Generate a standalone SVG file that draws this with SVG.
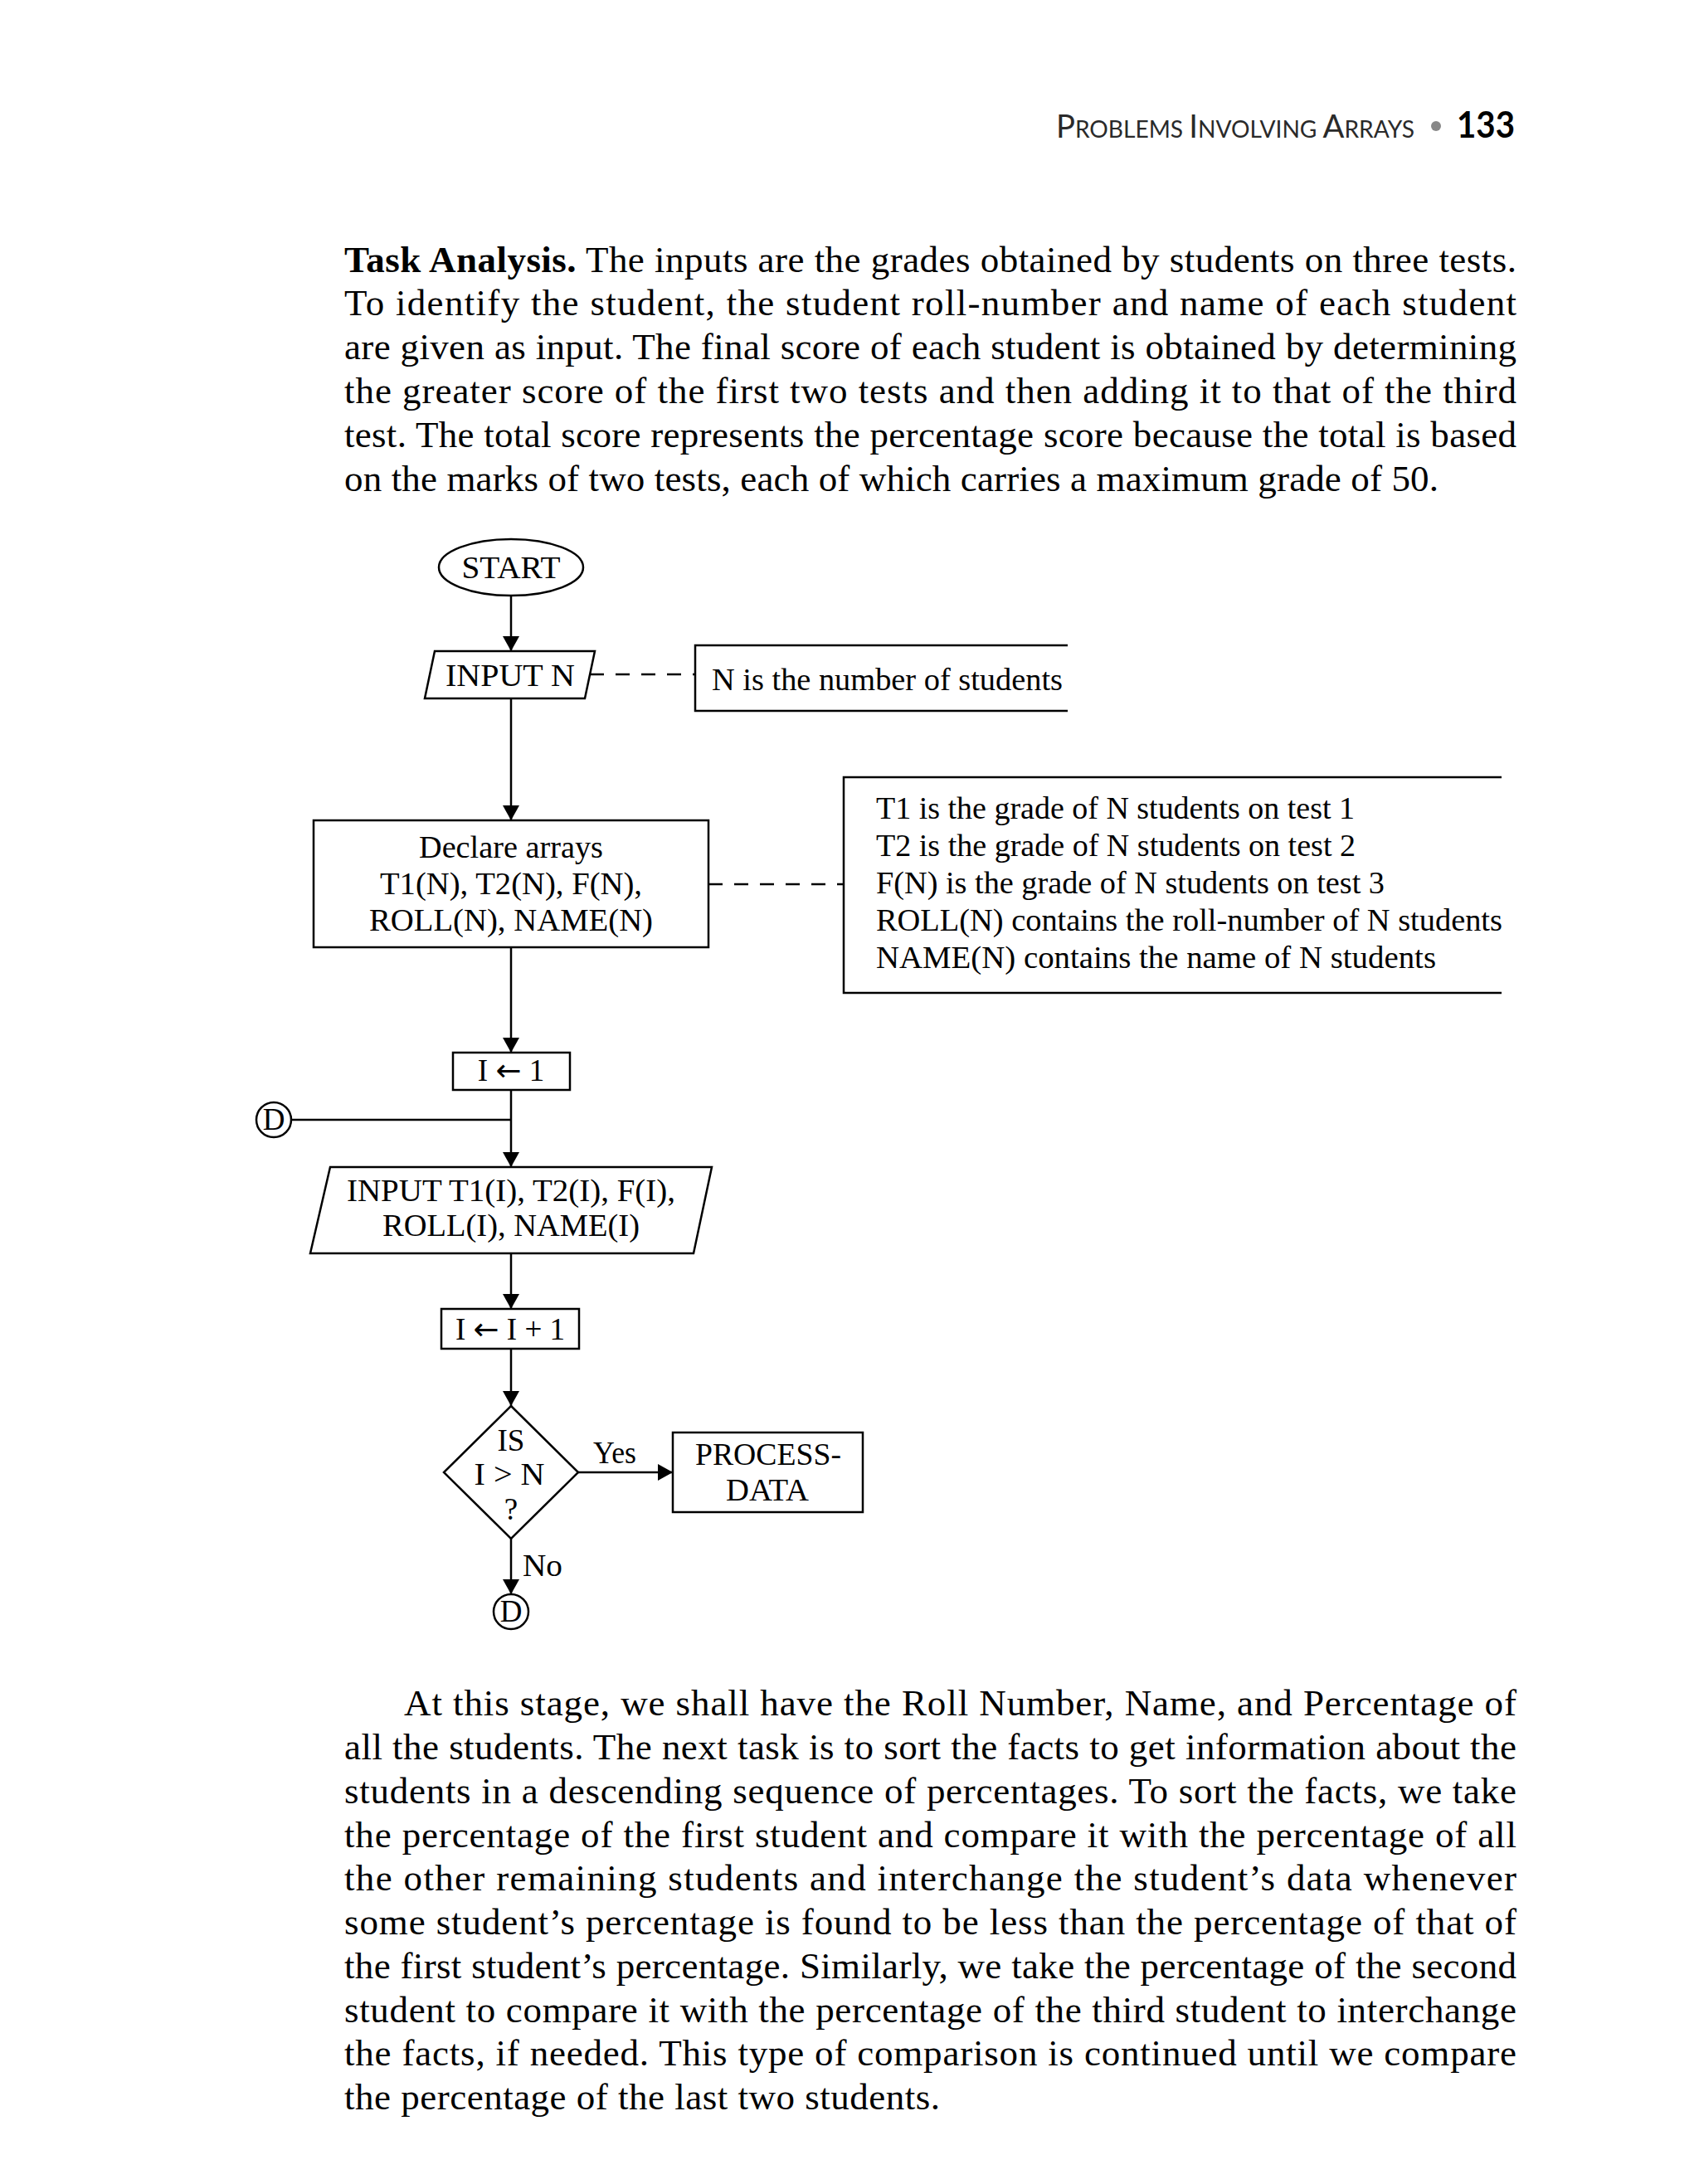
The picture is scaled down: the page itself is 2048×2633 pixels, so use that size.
<svg xmlns="http://www.w3.org/2000/svg" width="2048" height="2633" viewBox="0 0 2048 2633">
<defs>
<marker id="arr" markerWidth="20" markerHeight="20" refX="18" refY="10" orient="auto" markerUnits="userSpaceOnUse">
<path d="M0,0 L18,10 L0,20 Z" fill="#000"/>
</marker>
<style>
.body{font-family:"Liberation Serif","Times New Roman",serif;font-size:45px;fill:#000}
.fc{font-family:"Liberation Serif","Times New Roman",serif;font-size:37px;fill:#000}
.ar{font-family:"DejaVu Sans",sans-serif;font-size:37px}
.shape{fill:#fff;stroke:#000;stroke-width:2.5}
.line{fill:none;stroke:#000;stroke-width:2.5}
.arrow{fill:none;stroke:#000;stroke-width:2.5;marker-end:url(#arr)}
.dash{fill:none;stroke:#000;stroke-width:2.5;stroke-dasharray:17 14}
.hdr{font-family:Lato,"Open Sans",sans-serif;fill:#2a2a2a}
</style>
</defs>
<rect width="2048" height="2633" fill="#fff"/>

<g id="header">
<text class="hdr" x="1273" y="166" textLength="432" lengthAdjust="spacingAndGlyphs"><tspan font-size="38">P</tspan><tspan font-size="28">ROBLEMS </tspan><tspan font-size="38">I</tspan><tspan font-size="28">NVOLVING </tspan><tspan font-size="38">A</tspan><tspan font-size="28">RRAYS</tspan></text>
<circle cx="1731" cy="152" r="6" fill="#888"/>
<text x="1756" y="166" font-family="Lato,'Open Sans',sans-serif" font-weight="bold" font-size="44" fill="#000" textLength="70" lengthAdjust="spacingAndGlyphs">133</text>
</g>

<g id="intro-paragraph">
<text class="body" x="415" y="328" textLength="1413" lengthAdjust="spacing"><tspan font-weight="bold">Task Analysis.</tspan> The inputs are the grades obtained by students on three tests.</text>
<text class="body" x="415" y="380" textLength="1413" lengthAdjust="spacing">To identify the student, the student roll-number and name of each student</text>
<text class="body" x="415" y="433" textLength="1413" lengthAdjust="spacing">are given as input. The final score of each student is obtained by determining</text>
<text class="body" x="415" y="486" textLength="1413" lengthAdjust="spacing">the greater score of the first two tests and then adding it to that of the third</text>
<text class="body" x="415" y="539" textLength="1413" lengthAdjust="spacing">test. The total score represents the percentage score because the total is based</text>
<text class="body" x="415" y="592" textLength="1319" lengthAdjust="spacing">on the marks of two tests, each of which carries a maximum grade of 50.</text>
</g>

<g id="connectors">
<line class="arrow" x1="616" y1="718" x2="616" y2="785"/>
<line class="arrow" x1="616" y1="842" x2="616" y2="989"/>
<line class="arrow" x1="616" y1="1142" x2="616" y2="1269"/>
<line class="arrow" x1="616" y1="1314" x2="616" y2="1407"/>
<line class="line" x1="351" y1="1350" x2="616" y2="1350"/>
<line class="arrow" x1="616" y1="1511" x2="616" y2="1578"/>
<line class="arrow" x1="616" y1="1626" x2="616" y2="1695"/>
<line class="arrow" x1="697" y1="1775" x2="811" y2="1775"/>
<line class="arrow" x1="616" y1="1855" x2="616" y2="1922"/>
<line class="dash" x1="711" y1="813" x2="838" y2="813"/>
<line class="dash" x1="854" y1="1066" x2="1017" y2="1066"/>
<text class="fc" x="715" y="1764" textLength="52" lengthAdjust="spacingAndGlyphs">Yes</text>
<text class="fc" x="630" y="1900" textLength="48" lengthAdjust="spacingAndGlyphs">No</text>
</g>

<g id="start">
<ellipse class="shape" cx="616" cy="684" rx="87" ry="34"/>
<text class="fc" x="616" y="697" text-anchor="middle" textLength="119" lengthAdjust="spacingAndGlyphs">START</text>
</g>

<g id="input-n">
<polygon class="shape" points="524,785 717,785 705,842 512,842"/>
<text class="fc" x="615" y="827" text-anchor="middle" textLength="156" lengthAdjust="spacingAndGlyphs">INPUT N</text>
</g>

<g id="note-n">
<path class="line" d="M1287,778 H838 V857 H1287"/>
<text class="fc" x="858" y="832" textLength="423" lengthAdjust="spacingAndGlyphs">N is the number of students</text>
</g>

<g id="declare">
<rect class="shape" x="378" y="989" width="476" height="153"/>
<text class="fc" x="616" y="1034" text-anchor="middle" textLength="222" lengthAdjust="spacingAndGlyphs">Declare arrays</text>
<text class="fc" x="616" y="1078" text-anchor="middle" textLength="316" lengthAdjust="spacingAndGlyphs">T1(N), T2(N), F(N),</text>
<text class="fc" x="616" y="1122" text-anchor="middle" textLength="342" lengthAdjust="spacingAndGlyphs">ROLL(N), NAME(N)</text>
</g>

<g id="note-arrays">
<path class="line" d="M1810,937 H1017 V1197 H1810"/>
<text class="fc" x="1056" y="987" textLength="577" lengthAdjust="spacingAndGlyphs">T1 is the grade of N students on test 1</text>
<text class="fc" x="1056" y="1032" textLength="578" lengthAdjust="spacingAndGlyphs">T2 is the grade of N students on test 2</text>
<text class="fc" x="1056" y="1077" textLength="613" lengthAdjust="spacingAndGlyphs">F(N) is the grade of N students on test 3</text>
<text class="fc" x="1056" y="1122" textLength="755" lengthAdjust="spacingAndGlyphs">ROLL(N) contains the roll-number of N students</text>
<text class="fc" x="1056" y="1167" textLength="675" lengthAdjust="spacingAndGlyphs">NAME(N) contains the name of N students</text>
</g>

<g id="init-i">
<rect class="shape" x="546" y="1269" width="141" height="45"/>
<text class="fc" x="616" y="1303" text-anchor="middle">I <tspan class="ar">←</tspan> 1</text>
</g>

<g id="connector-d-in">
<circle class="shape" cx="330" cy="1350" r="21"/>
<text class="fc" x="330" y="1362" text-anchor="middle" font-size="33">D</text>
</g>

<g id="input-data">
<polygon class="shape" points="398,1407 858,1407 836,1511 374,1511"/>
<text class="fc" x="616" y="1448" text-anchor="middle" textLength="396" lengthAdjust="spacingAndGlyphs">INPUT T1(I), T2(I), F(I),</text>
<text class="fc" x="616" y="1490" text-anchor="middle" textLength="310" lengthAdjust="spacingAndGlyphs">ROLL(I), NAME(I)</text>
</g>

<g id="increment-i">
<rect class="shape" x="532" y="1578" width="166" height="48"/>
<text class="fc" x="615" y="1615" text-anchor="middle">I <tspan class="ar">←</tspan> I + 1</text>
</g>

<g id="decision">
<polygon class="shape" points="616,1695 697,1775 616,1855 535,1775"/>
<text class="fc" x="616" y="1749" text-anchor="middle">IS</text>
<text class="fc" x="614" y="1790" text-anchor="middle" textLength="85" lengthAdjust="spacingAndGlyphs">I &gt; N</text>
<text class="fc" x="616" y="1832" text-anchor="middle">?</text>
</g>

<g id="process-data">
<rect class="shape" x="811" y="1727" width="229" height="96"/>
<text class="fc" x="926" y="1766" text-anchor="middle" textLength="176" lengthAdjust="spacingAndGlyphs">PROCESS-</text>
<text class="fc" x="925" y="1809" text-anchor="middle" textLength="100" lengthAdjust="spacingAndGlyphs">DATA</text>
</g>

<g id="connector-d-out">
<circle class="shape" cx="616" cy="1943" r="21"/>
<text class="fc" x="616" y="1955" text-anchor="middle" font-size="33">D</text>
</g>

<g id="closing-paragraph">
<text class="body" x="487" y="2068" textLength="1341" lengthAdjust="spacing">At this stage, we shall have the Roll Number, Name, and Percentage of</text>
<text class="body" x="415" y="2121" textLength="1413" lengthAdjust="spacing">all the students. The next task is to sort the facts to get information about the</text>
<text class="body" x="415" y="2174" textLength="1413" lengthAdjust="spacing">students in a descending sequence of percentages. To sort the facts, we take</text>
<text class="body" x="415" y="2227" textLength="1413" lengthAdjust="spacing">the percentage of the first student and compare it with the percentage of all</text>
<text class="body" x="415" y="2279" textLength="1413" lengthAdjust="spacing">the other remaining students and interchange the student’s data whenever</text>
<text class="body" x="415" y="2332" textLength="1413" lengthAdjust="spacing">some student’s percentage is found to be less than the percentage of that of</text>
<text class="body" x="415" y="2385" textLength="1413" lengthAdjust="spacing">the first student’s percentage. Similarly, we take the percentage of the second</text>
<text class="body" x="415" y="2438" textLength="1413" lengthAdjust="spacing">student to compare it with the percentage of the third student to interchange</text>
<text class="body" x="415" y="2490" textLength="1413" lengthAdjust="spacing">the facts, if needed. This type of comparison is continued until we compare</text>
<text class="body" x="415" y="2543" textLength="718" lengthAdjust="spacing">the percentage of the last two students.</text>
</g>
</svg>
